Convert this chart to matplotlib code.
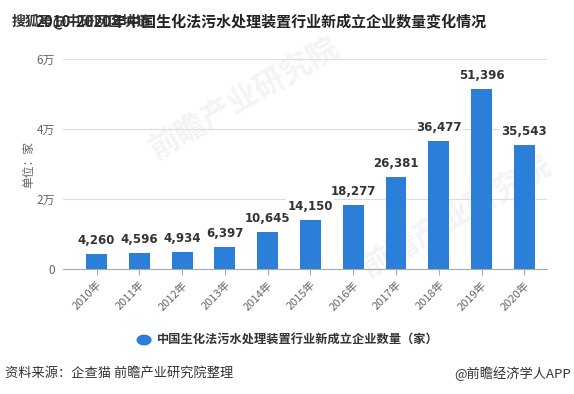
import matplotlib
matplotlib.use("Agg")
import matplotlib.pyplot as plt
from matplotlib.ticker import FuncFormatter

plt.rcParams["font.family"] = ["Noto Sans CJK SC", "DejaVu Sans"]

years = ["2010年", "2011年", "2012年", "2013年", "2014年", "2015年",
         "2016年", "2017年", "2018年", "2019年", "2020年"]
counts = [4260, 4596, 4934, 6397, 10645, 14150, 18277, 26381, 36477, 51396, 35543]
y_ticks = [0, 20000, 40000, 60000]
y_tick_labels = ["0", "2万", "4万", "6万"]

BAR = "#2B7FD8"
GREY = "#666666"

fig = plt.figure(figsize=(5.74, 3.94), dpi=100, facecolor="white")
ax = fig.add_axes([0.110, 0.317, 0.843, 0.533])
ax.set_facecolor("none")

x = list(range(len(years)))
ax.bar(x, counts, width=0.49, color=BAR, zorder=3)
for xi, v in zip(x, counts):
    ax.annotate(f"{v:,}", xy=(xi, v), xytext=(0, 5), textcoords="offset points",
                ha="center", va="bottom", fontsize=8.5, fontweight="bold",
                color="#333333", family=["DejaVu Sans"], zorder=4,
                bbox=dict(boxstyle="square,pad=0.1", fc="white", ec="none"))

ax.set_xlim(-0.78, 10.53)
ax.set_ylim(0, 60000)
ax.set_yticks(y_ticks)
ax.yaxis.set_major_formatter(FuncFormatter(lambda v, p: y_tick_labels[y_ticks.index(int(v))] if int(v) in y_ticks else ""))
ax.grid(axis="y", color="#DDDDDD", linewidth=0.8, zorder=0)
for s in ["top", "right", "left"]:
    ax.spines[s].set_visible(False)
ax.spines["bottom"].set_color("#AAAAAA")
ax.tick_params(axis="y", length=0, colors=GREY, labelsize=8.5, pad=6)
ax.set_xticks(x)
ax.set_xticklabels(years, rotation=45, ha="right", rotation_mode="anchor")
ax.tick_params(axis="x", length=4, color="#AAAAAA", colors=GREY, labelsize=8)
ax.set_ylabel("单位：家", color=GREY, fontsize=8.5, labelpad=1)

# title + sohu overlay
fig.text(0.062, 0.945, "2010-2020年中国生化法污水处理装置行业新成立企业数量变化情况",
         fontsize=10.8, fontweight="bold", color="#222222", va="center")
fig.text(0.02, 0.947, "搜狐号@中研网区块链", fontsize=10, fontweight="bold",
         color="#333333", va="center")

# faint watermark behind the plot
fig.text(0.25, 0.60, "前瞻产业研究院", fontsize=22, rotation=30, color="#F2F4F7",
         fontweight="bold", zorder=-1)
fig.text(0.62, 0.30, "前瞻产业研究院", fontsize=22, rotation=30, color="#F2F4F7",
         fontweight="bold", zorder=-1)

# legend
fig.patches.append(plt.Circle((0.251, 0.137), 0.012, transform=fig.transFigure,
                              color=BAR, figure=fig))
fig.text(0.273, 0.137, "中国生化法污水处理装置行业新成立企业数量（家）",
         fontsize=8.8, color="#333333", va="center", fontweight="bold")

# footer
fig.text(0.008, 0.052, "资料来源：企查猫 前瞻产业研究院整理", fontsize=9.5,
         color="#333333", va="center")
fig.text(0.995, 0.052, "@前瞻经济学人APP", fontsize=9.5, color="#333333",
         va="center", ha="right")

fig.savefig("out.png", dpi=100, facecolor="white")
